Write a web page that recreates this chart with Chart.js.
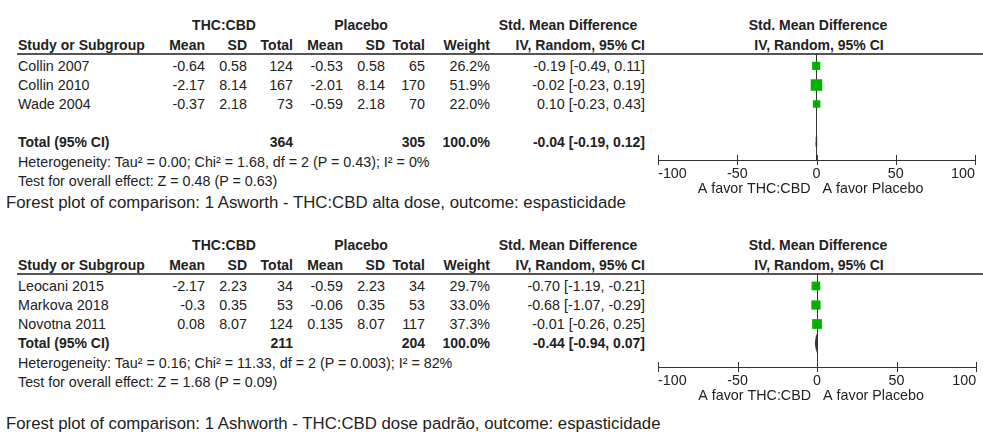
<!DOCTYPE html>
<html>
<head>
<meta charset="utf-8">
<script src="https://cdn.jsdelivr.net/npm/chart.js@4.4.0/dist/chart.umd.min.js"></script>
<style>
  body { margin: 0; background: #fff; width: 983px; height: 432px; overflow: hidden; position: relative;
         font-family: "Liberation Sans", Arial, sans-serif; color: #222; }
  .t { position: absolute; white-space: nowrap; font-size: 14.3px; line-height: 16px; }
  .b { font-weight: bold; font-size: 14px; }
  .r { transform: translateX(-100%); }
  .c { transform: translateX(-50%); }
  .cap { font-size: 16.8px; line-height: 20px; }
  .rule { position: absolute; left: 17px; right: 0; height: 2px; background: #555; }
  canvas { position: absolute; }
</style>
</head>
<body>
<script>
// panel 1: alta dose
const studies1 = ['Collin 2007', 'Collin 2010', 'Wade 2004'];
const thcMean1 = [-0.64, -2.17, -0.37];
const thcSd1 = [0.58, 8.14, 2.18];
const thcN1 = [124, 167, 73];
const plaMean1 = [-0.53, -2.01, -0.59];
const plaSd1 = [0.58, 8.14, 2.18];
const plaN1 = [65, 170, 70];
const weight1 = [26.2, 51.9, 22.0];
const smd1 = [-0.19, -0.02, 0.10];
const smdLo1 = [-0.49, -0.23, -0.23];
const smdHi1 = [0.11, 0.19, 0.43];
const total1 = { thcN: 364, plaN: 305, smd: -0.04, lo: -0.19, hi: 0.12 };
const het1 = 'Heterogeneity: Tau² = 0.00; Chi² = 1.68, df = 2 (P = 0.43); I² = 0%';
const test1 = 'Test for overall effect: Z = 0.48 (P = 0.63)';
const caption1 = 'Forest plot of comparison: 1 Asworth - THC:CBD alta dose, outcome: espasticidade';

// panel 2: dose padrão
const studies2 = ['Leocani 2015', 'Markova 2018', 'Novotna 2011'];
const thcMean2 = [-2.17, -0.3, 0.08];
const thcSd2 = [2.23, 0.35, 8.07];
const thcN2 = [34, 53, 124];
const plaMean2 = [-0.59, -0.06, 0.135];
const plaSd2 = [2.23, 0.35, 8.07];
const plaN2 = [34, 53, 117];
const weight2 = [29.7, 33.0, 37.3];
const smd2 = [-0.70, -0.68, -0.01];
const smdLo2 = [-1.19, -1.07, -0.26];
const smdHi2 = [-0.21, -0.29, 0.25];
const total2 = { thcN: 211, plaN: 204, smd: -0.44, lo: -0.94, hi: 0.07 };
const het2 = 'Heterogeneity: Tau² = 0.16; Chi² = 11.33, df = 2 (P = 0.003); I² = 82%';
const test2 = 'Test for overall effect: Z = 1.68 (P = 0.09)';
const caption2 = 'Forest plot of comparison: 1 Ashworth - THC:CBD dose padrão, outcome: espasticidade';

const xTicks = [-100, -50, 0, 50, 100];
const favourLeft = 'A favor THC:CBD';
const favourRight = 'A favor Placebo';

const FONT = '"Liberation Sans", Arial, sans-serif';
const colRight = [205, 247, 293, 343, 385, 425, 490, 645];

function txt(s, x, y, cls) {
  const d = document.createElement('div');
  d.className = 't ' + (cls || '');
  d.textContent = s;
  d.style.left = x + 'px';
  d.style.top = (y - 8) + 'px';
  document.body.appendChild(d);
}

const fmt2 = v => v.toFixed(2);
const ci = (e, l, h) => `${fmt2(e)} [${fmt2(l)}, ${fmt2(h)}]`;

const forestPlugin = {
  id: 'forest',
  afterDraw(chart) {
    const ctx = chart.ctx, x = chart.scales.x, bottom = chart.chartArea.bottom;
    ctx.save();
    ctx.strokeStyle = '#333';
    ctx.lineWidth = 1;
    xTicks.forEach(v => {
      const px = Math.round(x.getPixelForValue(v)) + 0.5;
      ctx.beginPath();
      ctx.moveTo(px, bottom - 5);
      ctx.lineTo(px, bottom + 5);
      ctx.stroke();
    });
    const zero = x.getPixelForValue(0);
    ctx.fillStyle = '#222';
    ctx.font = '14.3px ' + FONT;
    ctx.textBaseline = 'middle';
    ctx.textAlign = 'right';
    ctx.fillText(favourLeft, zero - 6, bottom + 29);
    ctx.textAlign = 'left';
    ctx.fillText(favourRight, zero + 6, bottom + 29);
    ctx.restore();
  }
};

function panel(p) {
  const o = p.top;
  // headers
  txt('THC:CBD', 224, o + 25, 'b c');
  txt('Placebo', 361, o + 25, 'b c');
  txt('Std. Mean Difference', 568, o + 25, 'b c');
  txt('Std. Mean Difference', 818, o + 25, 'b c');
  txt('Study or Subgroup', 18, o + 45, 'b');
  ['Mean', 'SD', 'Total', 'Mean', 'SD', 'Total', 'Weight', 'IV, Random, 95% CI']
    .forEach((h, i) => txt(h, colRight[i], o + 45, 'b r'));
  txt('IV, Random, 95% CI', 819, o + 45, 'b c');
  const rule = document.createElement('div');
  rule.className = 'rule';
  rule.style.top = (o + 53) + 'px';
  document.body.appendChild(rule);

  // study rows
  p.studies.forEach((s, i) => {
    const y = o + 66 + i * 19;
    txt(s, 18, y);
    const cells = [String(p.thcMean[i]), String(p.thcSd[i]), String(p.thcN[i]),
      String(p.plaMean[i]), String(p.plaSd[i]), String(p.plaN[i]),
      p.weight[i].toFixed(1) + '%', ci(p.smd[i], p.smdLo[i], p.smdHi[i])];
    cells.forEach((c, k) => txt(c, colRight[k], y, 'r'));
  });

  const ty = o + 66 + p.totalRow * 19;
  txt('Total (95% CI)', 18, ty, 'b');
  txt(String(p.total.thcN), colRight[2], ty, 'b r');
  txt(String(p.total.plaN), colRight[5], ty, 'b r');
  txt('100.0%', colRight[6], ty, 'b r');
  txt(ci(p.total.smd, p.total.lo, p.total.hi), colRight[7], ty, 'b r');
  txt(p.het, 18, ty + 20);
  txt(p.test, 18, ty + 39);
  txt(p.caption, 6, p.captionY, 'cap');

  // forest plot
  const cv = document.createElement('canvas');
  cv.width = 333; cv.height = p.canvasH;
  cv.style.left = '650px'; cv.style.top = (o + 44) + 'px';
  document.body.appendChild(cv);

  const datasets = [];
  p.studies.forEach((s, i) => {
    datasets.push({
      data: [{ x: p.smdLo[i], y: i }, { x: p.smdHi[i], y: i }],
      showLine: true, borderColor: '#222', borderWidth: 1, pointRadius: 0
    });
  });
  datasets.push({
    data: p.smd.map((v, i) => ({ x: v, y: i })),
    pointStyle: 'rect',
    pointRadius: p.weight.map(w => Math.sqrt(w) * 1.6 / Math.SQRT2),
    backgroundColor: '#00b300', borderWidth: 0, showLine: false
  });
  const tr = p.totalRow, t = p.total;
  datasets.push({
    data: [{ x: t.lo, y: tr }, { x: t.smd, y: tr - 0.27 }, { x: t.hi, y: tr },
           { x: t.smd, y: tr + 0.27 }, { x: t.lo, y: tr }],
    showLine: true, fill: 'shape', backgroundColor: '#333', borderColor: '#333',
    borderWidth: 1.5, pointRadius: 0, tension: 0
  });

  new Chart(cv, {
    type: 'scatter',
    data: { datasets },
    options: {
      responsive: false,
      animation: false,
      layout: { padding: { left: 8, right: 3, top: 10, bottom: 0 } },
      plugins: { legend: { display: false }, tooltip: { enabled: false } },
      scales: {
        x: {
          type: 'linear', min: -100, max: 100,
          afterBuildTicks: s => { s.ticks = xTicks.map(v => ({ value: v })); },
          afterFit: s => { s.height = 44; },
          grid: {
            drawTicks: false, lineWidth: 1,
            color: c => (c.tick && c.tick.value === 0) ? '#333' : 'rgba(0,0,0,0)'
          },
          border: { display: true, color: '#333', width: 1 },
          ticks: { padding: 5, align: 'inner', color: '#222', font: { family: FONT, size: 14.3 },
                   callback: v => String(v) }
        },
        y: { type: 'linear', reverse: true, min: -0.63, max: p.yMax, display: false }
      }
    },
    plugins: [forestPlugin]
  });
}

panel({ top: 0, studies: studies1, thcMean: thcMean1, thcSd: thcSd1, thcN: thcN1,
  plaMean: plaMean1, plaSd: plaSd1, plaN: plaN1, weight: weight1, smd: smd1, smdLo: smdLo1,
  smdHi: smdHi1, total: total1, totalRow: 4, het: het1, test: test1, caption: caption1,
  captionY: 201, canvasH: 160, yMax: 4.95 });

panel({ top: 220, studies: studies2, thcMean: thcMean2, thcSd: thcSd2, thcN: thcN2,
  plaMean: plaMean2, plaSd: plaSd2, plaN: plaN2, weight: weight2, smd: smd2, smdLo: smdLo2,
  smdHi: smdHi2, total: total2, totalRow: 3, het: het2, test: test2, caption: caption2,
  captionY: 422, canvasH: 147, yMax: 4.26 });
</script>
</body>
</html>
